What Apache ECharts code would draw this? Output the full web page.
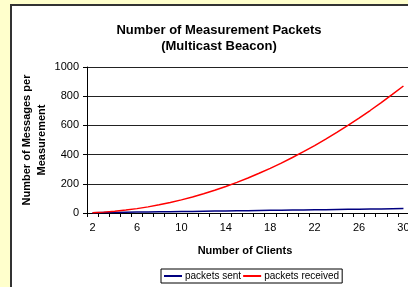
<!DOCTYPE html>
<html>
<head>
<meta charset="utf-8">
<script src="https://cdn.jsdelivr.net/npm/echarts@6/dist/echarts.min.js"></script>
<style>
  html, body { margin: 0; padding: 0; background: #ffffcc; }
  #chart { width: 408px; height: 287px; }
</style>
</head>
<body>
<div id="chart"></div>
<script>
  // number of clients
  const clients = ['2', '3', '4', '5', '6', '7', '8', '9', '10', '11', '12', '13', '14', '15', '16',
    '17', '18', '19', '20', '21', '22', '23', '24', '25', '26', '27', '28', '29', '30']
  const packetsSent = [2, 3, 4, 5, 6, 7, 8, 9, 10, 11, 12, 13, 14, 15, 16,
    17, 18, 19, 20, 21, 22, 23, 24, 25, 26, 27, 28, 29, 30]
  const packetsReceived = [2, 6, 12, 20, 30, 42, 56, 72, 90, 110, 132, 156, 182, 210, 240,
    272, 306, 342, 380, 420, 462, 506, 552, 600, 650, 702, 756, 812, 870]
  const yTicks = [0, 200, 400, 600, 800, 1000]

  const font = 'Liberation Sans, Arial, sans-serif'
  const chart = echarts.init(document.getElementById('chart'))
  chart.setOption({
    backgroundColor: '#ffffcc',
    animation: false,
    graphic: [
      {
        type: 'rect',
        z: -10,
        shape: { x: 11, y: 5, width: 420, height: 300 },
        style: { fill: '#ffffff', stroke: '#333333', lineWidth: 2 },
      },
    ],
    title: {
      text: 'Number of Measurement Packets\n(Multicast Beacon)',
      left: 214,
      top: 17,
      textAlign: 'center',
      textStyle: {
        fontFamily: font,
        fontSize: 13,
        fontWeight: 'bold',
        color: '#000',
        lineHeight: 16,
      },
    },
    legend: {
      data: ['packets sent', 'packets received'],
      left: 161,
      top: 269,
      padding: [2, 3, 2, 3],
      itemGap: 2,
      itemWidth: 18,
      itemHeight: 2,
      icon: 'rect',
      borderColor: '#000',
      borderWidth: 1,
      textStyle: { fontFamily: font, fontSize: 10, color: '#000', padding: [0, 0, 0, -2] },
    },
    grid: {
      left: 87,
      top: 67,
      width: 322,
      height: 146,
      outerBoundsMode: 'none',
      containLabel: false,
    },
    xAxis: {
      type: 'category',
      data: clients,
      boundaryGap: true,
      name: 'Number of Clients',
      nameLocation: 'middle',
      nameGap: 32,
      nameTextStyle: { fontFamily: font, fontSize: 11, fontWeight: 'bold', color: '#000', padding: [0, 0, 0, -6] },
      axisLine: { lineStyle: { color: '#000', width: 1 } },
      axisTick: { show: true, interval: 0, length: 4, inside: false, lineStyle: { color: '#000' } },
      axisLabel: { interval: 3, margin: 9, fontFamily: font, fontSize: 11, color: '#000', hideOverlap: false },
      splitLine: { show: false },
    },
    yAxis: {
      type: 'value',
      min: yTicks[0],
      max: yTicks[yTicks.length - 1],
      interval: 200,
      name: 'Number of Messages per\nMeasurement',
      nameLocation: 'middle',
      nameGap: 38,
      nameMoveOverlap: false,
      nameRotate: 90,
      nameTextStyle: { fontFamily: font, fontSize: 11, fontWeight: 'bold', color: '#000', lineHeight: 15 },
      axisLine: { show: true, lineStyle: { color: '#000', width: 1 } },
      axisTick: { show: true, length: 4, lineStyle: { color: '#000' } },
      axisLabel: { margin: 8, fontFamily: font, fontSize: 11, color: '#000', formatter: (v) => String(v) },
      splitLine: { show: true, lineStyle: { color: '#222', width: 1 } },
    },
    series: [
      {
        name: 'packets sent',
        type: 'line',
        data: packetsSent,
        symbol: 'none',
        smooth: false,
        lineStyle: { color: '#000080', width: 1.5 },
        itemStyle: { color: '#000080' },
      },
      {
        name: 'packets received',
        type: 'line',
        data: packetsReceived,
        symbol: 'none',
        smooth: false,
        lineStyle: { color: '#ff0000', width: 1.5 },
        itemStyle: { color: '#ff0000' },
      },
    ],
  })
</script>
</body>
</html>
